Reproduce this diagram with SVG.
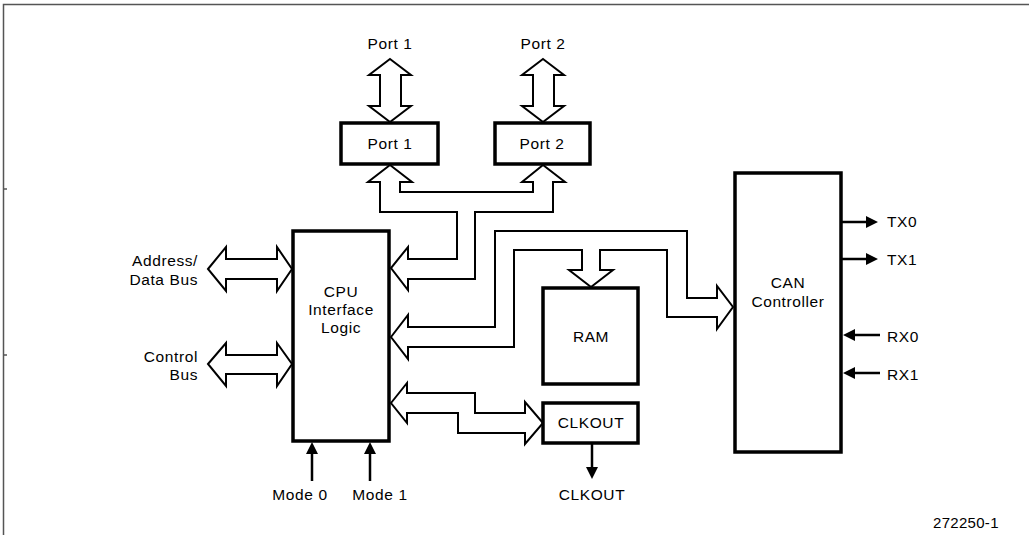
<svg xmlns="http://www.w3.org/2000/svg" width="1029" height="535" viewBox="0 0 1029 535">
<defs>
<style>
.box{fill:#fff;stroke:#000;stroke-width:3.5}
.bus{fill:#fff;stroke:#000;stroke-width:2;stroke-linejoin:miter}
.sig{fill:none;stroke:#000;stroke-width:2.5}
.head{fill:#000;stroke:none}
text{font-family:"Liberation Sans",Arial,sans-serif;font-size:15.5px;letter-spacing:0.6px;fill:#000}
.c{text-anchor:middle}
.e{text-anchor:end}
.frame{fill:none;stroke:#555;stroke-width:1.5}
</style>
</defs>
<rect x="0" y="0" width="1029" height="535" fill="#fff"/>
<path class="frame" d="M3.5,535 V4.5 H1029 M3,189 H7 M3,355 H7"/>

<g id="connectors">
  <path class="bus" d="M390,59 L411,75 L401,75 L401,106 L411,106 L390,122 L369,106 L380,106 L380,75 L369,75 Z"/>
  <path class="bus" d="M543,59 L564,75 L554,75 L554,106 L564,106 L543,122 L522,106 L533,106 L533,75 L522,75 Z"/>
  <path class="bus" d="M390,165 L412,182 L400,182 L400,192 L533,192 L533,182 L522,182 L543,165 L565,182 L553,182 L553,212 L475,212 L475,279 L408,279 L408,290 L391,268 L408,247 L408,259 L457,259 L457,212 L380,212 L380,182 L368,182 Z"/>
  <path class="bus" d="M391,337 L408,315 L408,327 L495,327 L495,231 L687,231 L687,298 L717,298 L717,286 L733,307 L717,329 L717,317 L667,317 L667,250 L600,250 L600,270 L613,270 L591,287 L569,270 L582,270 L582,250 L514,250 L514,347 L408,347 L408,359 Z"/>
  <path class="bus" d="M391,403 L407,383 L407,393 L475,393 L475,413 L525,413 L525,402 L543,423 L525,444 L525,433 L458,433 L458,413 L407,413 L407,423 Z"/>
  <path class="bus" d="M208,269 L226,247 L226,259 L277,259 L277,247 L292,269 L277,291 L277,279 L226,279 L226,291 Z"/>
  <path class="bus" d="M208,364 L226,343 L226,355 L277,355 L277,343 L292,364 L277,386 L277,374 L226,374 L226,386 Z"/>
  <path class="sig" d="M312,481 V452 M370,481 V452"/>
  <path class="head" d="M312,442 L306,454 L318,454 Z M370,442 L364,454 L376,454 Z"/>
  <path class="sig" d="M592,444 V469"/>
  <path class="head" d="M592,479 L586,467 L598,467 Z"/>
  <path class="sig" d="M842,222 H868 M842,259 H868"/>
  <path class="head" d="M878,222 L866,216 L866,228 Z M878,259 L866,253 L866,265 Z"/>
  <path class="sig" d="M880,335 H853 M880,373 H853"/>
  <path class="head" d="M843,335 L855,329 L855,341 Z M843,373 L855,367 L855,379 Z"/>
</g>

<g id="port1">
  <rect class="box" x="341" y="123" width="97" height="41"/>
  <text class="c" x="390" y="149">Port 1</text>
</g>
<g id="port2">
  <rect class="box" x="495" y="123" width="95" height="41"/>
  <text class="c" x="542" y="149">Port 2</text>
</g>
<g id="cpu">
  <rect class="box" x="293" y="231" width="96" height="210"/>
  <text class="c" x="341" y="297">CPU</text>
  <text class="c" x="341" y="315">Interface</text>
  <text class="c" x="341" y="333">Logic</text>
</g>
<g id="ram">
  <rect class="box" x="543" y="288" width="95" height="96"/>
  <text class="c" x="591" y="342">RAM</text>
</g>
<g id="clkout">
  <rect class="box" x="543" y="403" width="95" height="40"/>
  <text class="c" x="591" y="428">CLKOUT</text>
</g>
<g id="can">
  <rect class="box" x="735" y="173" width="106" height="279"/>
  <text class="c" x="788" y="288">CAN</text>
  <text class="c" x="788" y="307">Controller</text>
</g>

<g id="labels">
  <text class="c" x="390" y="49">Port 1</text>
  <text class="c" x="543" y="49">Port 2</text>
  <text class="e" x="198" y="266">Address/</text>
  <text class="e" x="198" y="285">Data Bus</text>
  <text class="e" x="198" y="362">Control</text>
  <text class="e" x="198" y="380">Bus</text>
  <text class="c" x="300" y="500">Mode 0</text>
  <text class="c" x="380" y="500">Mode 1</text>
  <text class="c" x="592" y="500">CLKOUT</text>
  <text x="887" y="227">TX0</text>
  <text x="887" y="265">TX1</text>
  <text x="887" y="342">RX0</text>
  <text x="887" y="380">RX1</text>
  <text x="933" y="528" style="font-size:15px;letter-spacing:0.3px">272250-1</text>
</g>
</svg>
